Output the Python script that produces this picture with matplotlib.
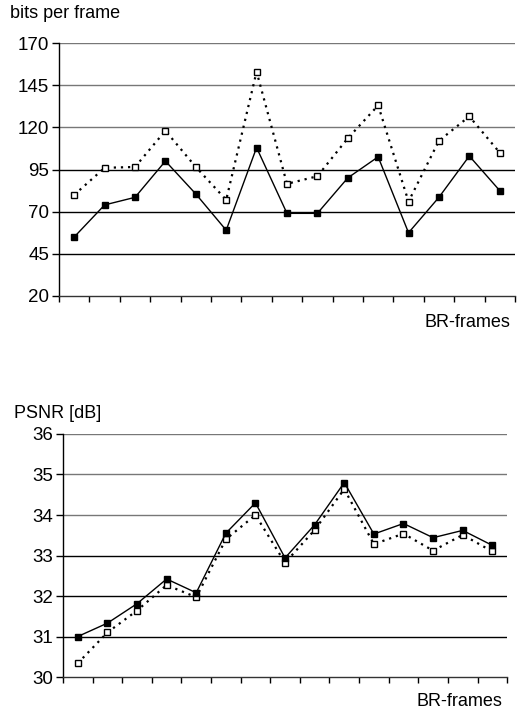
import matplotlib
matplotlib.use("Agg")
import matplotlib.pyplot as plt
import numpy as np

plt.rcParams["font.family"] = ["Liberation Sans", "DejaVu Sans"]

# BR-frame index (15 frames)
frames = np.arange(1, 16)

# bits per frame
bits_solid = [55, 74, 78.5, 100, 80.5, 59, 108, 69, 69, 90, 102.5, 57.5, 78.5, 103, 82.5]
bits_open = [80, 96, 96.5, 118, 96.5, 77, 153, 86.5, 91, 113.5, 133, 76, 112, 126.5, 105]
bits_ticks = [20, 45, 70, 95, 120, 145, 170]

# PSNR [dB]
psnr_solid = [31.0, 31.33, 31.81, 32.42, 32.08, 33.55, 34.3, 32.94, 33.76, 34.8,
              33.53, 33.79, 33.44, 33.62, 33.25]
psnr_open = [30.34, 31.1, 31.64, 32.27, 31.97, 33.4, 34.0, 32.82, 33.63, 34.64,
             33.28, 33.54, 33.12, 33.51, 33.1]
psnr_ticks = [30, 31, 32, 33, 34, 35, 36]

fig = plt.figure(figsize=(5.18, 7.11), dpi=100)
ax1 = fig.add_axes([0.114, 0.5837, 0.88, 0.3558])
ax2 = fig.add_axes([0.1216, 0.0478, 0.8574, 0.3418])


def style_axis(ax, ticks, gray_from):
    ax.set_xlim(0.5, 15.5)
    ax.set_ylim(ticks[0], ticks[-1])
    ax.set_yticks(ticks)
    ax.set_xticks(np.arange(0.5, 16, 1))
    ax.set_xticklabels([])
    for s in ["top", "right"]:
        ax.spines[s].set_visible(False)
    ax.spines["left"].set_linewidth(1.0)
    ax.spines["bottom"].set_linewidth(1.0)
    ax.spines["bottom"].set_color("#333333")
    ax.tick_params(axis="y", direction="out", length=5, width=1, labelsize=13.5, pad=2)
    ax.tick_params(axis="x", direction="out", length=4.5, width=1)
    for t in ticks[1:]:
        col = "#777777" if t >= gray_from else "#000000"
        ax.axhline(t, color=col, linewidth=1.0, zorder=0)


style_axis(ax1, bits_ticks, 120)
ax1.plot(frames, bits_open, color="black", linestyle=(0, (1, 2.2)), linewidth=1.6,
         marker="s", markersize=4.5, markerfacecolor="white", markeredgecolor="black",
         markeredgewidth=1.0)
ax1.plot(frames, bits_solid, color="black", linewidth=1.0,
         marker="s", markersize=5, markerfacecolor="black", markeredgecolor="black")
fig.text(0.019, 0.981, "bits per frame", fontsize=13, ha="left", va="center")
fig.text(0.985, 0.547, "BR-frames", fontsize=13, ha="right", va="center")

style_axis(ax2, psnr_ticks, 34)
ax2.plot(frames, psnr_open, color="black", linestyle=(0, (1, 2.2)), linewidth=1.6,
         marker="s", markersize=4.5, markerfacecolor="white", markeredgecolor="black",
         markeredgewidth=1.0)
ax2.plot(frames, psnr_solid, color="black", linewidth=1.0,
         marker="s", markersize=5, markerfacecolor="black", markeredgecolor="black")
fig.text(0.027, 0.419, "PSNR [dB]", fontsize=13, ha="left", va="center")
fig.text(0.969, 0.013, "BR-frames", fontsize=13, ha="right", va="center")

fig.savefig("out.png", dpi=100)
